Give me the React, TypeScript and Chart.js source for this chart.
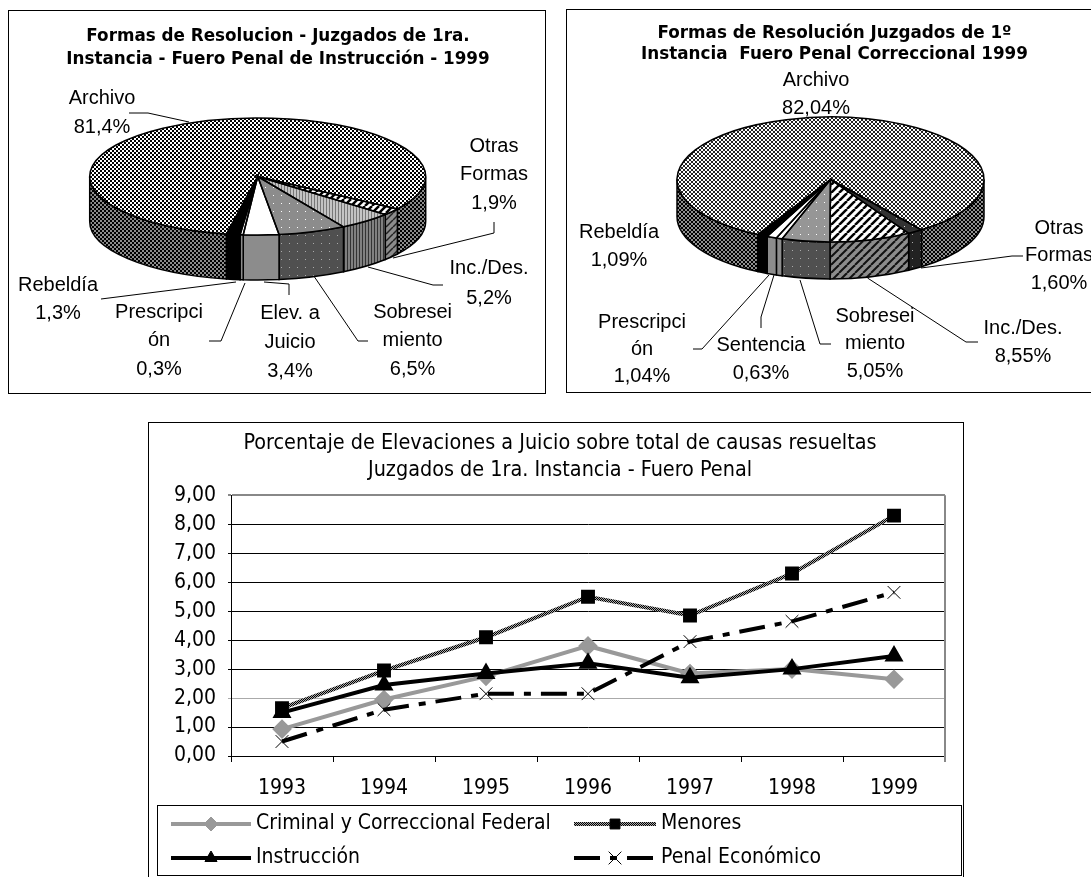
import React, { useEffect, useRef } from "react";
import { Chart, registerables } from "chart.js";
import { drawPoint } from "chart.js/helpers";

Chart.register(...registerables);

// ---------- data ----------
const instruccionCategories = [["Archivo"], ["Otras", "Formas"], ["Inc./Des."], ["Sobresei", "miento"], ["Elev. a", "Juicio"], ["Prescripci", "ón"], ["Rebeldía"]];
const instruccionValues = [81.4, 1.9, 5.2, 6.5, 3.4, 0.3, 1.3];
const correccionalCategories = [["Archivo"], ["Otras", "Formas"], ["Inc./Des."], ["Sobresei", "miento"], ["Sentencia"], ["Prescripci", "ón"], ["Rebeldía"]];
const correccionalValues = [82.04, 1.6, 8.55, 5.05, 0.63, 1.04, 1.09];

const years = ["1993", "1994", "1995", "1996", "1997", "1998", "1999"];
const criminalFederal = [0.93, 1.95, 2.75, 3.8, 2.85, 3.0, 2.65];
const menores = [1.65, 2.95, 4.1, 5.5, 4.85, 6.3, 8.3];
const instruccion = [1.5, 2.45, 2.85, 3.2, 2.7, 3.0, 3.45];
const penalEconomico = [0.5, 1.6, 2.15, 2.15, 3.95, 4.65, 5.65];

const titleA = ["Formas de Resolucion - Juzgados de 1ra.", "Instancia - Fuero Penal de Instrucción - 1999"];
const titleB = ["Formas de Resolución Juzgados de 1º", "Instancia  Fuero Penal Correccional 1999"];
const titleC = ["Porcentaje de Elevaciones a Juicio sobre total de causas resueltas", "Juzgados de 1ra. Instancia - Fuero Penal"];

// ---------- layout (page pixels) ----------
const PIE_FONT = '20px "Liberation Sans"';
const TITLE_FONT = "DejaVu Sans";
const LINE_FONT = "DejaVu Sans Condensed";

const layoutA = {
  canvas: { left: 8, top: 10, width: 540, height: 383 },
  ellipse: { cx: 257.7, cy: 176.5, rx: 168, ry: 58.5, depth: 45 },
  rotation: 190.7,
  decimals: 1,
  labels: [
    { x: 102, y: 98, lh: 29, leader: [[129, 113], [148, 113], [189, 122]] },
    { x: 494, y: 146, lh: 28.5, leader: [[494, 222], [494, 233], [393, 258]] },
    { x: 489, y: 268, lh: 30, leader: [[443, 285], [433, 285], [368, 267]] },
    { x: 412.6, y: 312, lh: 28.5, leader: [[368, 341], [358, 341], [314.5, 277]] },
    { x: 290, y: 313, lh: 29, leader: [[289, 295], [289, 284], [264, 282]] },
    { x: 159, y: 312, lh: 28.5, leader: [[209, 341], [221, 341], [245, 283]] },
    { x: 58, y: 285, lh: 28, leader: [[101, 299], [236, 282]] },
  ],
};

const layoutB = {
  canvas: { left: 567, top: 9, width: 535, height: 383 },
  ellipse: { cx: 830.5, cy: 179.5, rx: 153.5, ry: 62.5, depth: 37 },
  rotation: 208.3,
  decimals: 2,
  labels: [
    { x: 816, y: 80, lh: 28, leader: [] },
    { x: 1059, y: 228, lh: 27.5, leader: [[1023, 256], [1012, 256], [921, 268]] },
    { x: 1023, y: 328, lh: 28, leader: [[978, 342], [966, 342], [867.5, 278]] },
    { x: 875, y: 316, lh: 27.5, leader: [[831, 344], [820, 344], [800, 280]] },
    { x: 761, y: 345, lh: 28, leader: [[761, 328], [761, 317], [774, 275]] },
    { x: 642, y: 322, lh: 27, leader: [[693, 349], [702, 349], [769, 275]] },
    { x: 619, y: 232, lh: 28, leader: [] },
  ],
};

// ---------- patterns ----------
function tile(w: number, h: number, paint: (c: CanvasRenderingContext2D) => void) {
  const off = document.createElement("canvas");
  off.width = w;
  off.height = h;
  const c = off.getContext("2d")!;
  paint(c);
  return document.createElement("canvas").getContext("2d")!.createPattern(off, "repeat")!;
}
const checker = (fg: string, bg: string, cell = 2) =>
  tile(cell * 2, cell * 2, (c) => {
    c.fillStyle = bg;
    c.fillRect(0, 0, cell * 2, cell * 2);
    c.fillStyle = fg;
    c.fillRect(0, 0, cell, cell);
    c.fillRect(cell, cell, cell, cell);
  });
const vstripes = (a: string, b: string) =>
  tile(3, 3, (c) => {
    c.fillStyle = b;
    c.fillRect(0, 0, 3, 3);
    c.fillStyle = a;
    c.fillRect(0, 0, 1, 3);
  });
const dots = (bg: string, dot: string, n = 8) =>
  tile(n, n, (c) => {
    c.fillStyle = bg;
    c.fillRect(0, 0, n, n);
    c.fillStyle = dot;
    c.fillRect(1, 1, 1, 1);
  });
const diag = (bg: string, fg: string, n = 8, w = 2.5) =>
  tile(n, n, (c) => {
    c.fillStyle = bg;
    c.fillRect(0, 0, n, n);
    c.strokeStyle = fg;
    c.lineWidth = w;
    for (const k of [-n, 0, n]) {
      c.beginPath();
      c.moveTo(k, n);
      c.lineTo(k + n, 0);
      c.stroke();
    }
  });

function fillsA() {
  return {
    top: [checker("#000", "#fff"), diag("#fff", "#000", 7, 2.5), vstripes("#777", "#c4c4c4"), dots("#8c8c8c", "#fff"), "#fff", "#fff", "#000"],
    rim: [checker("#000", "#8c8c8c"), diag("#8c8c8c", "#222", 7, 1.5), vstripes("#333", "#808080"), dots("#505050", "#aaa"), "#8c8c8c", "#8c8c8c", "#000"],
  };
}
function fillsB() {
  return {
    top: [checker("#222", "#fff"), dots("#333", "#ddd"), diag("#fff", "#000", 8, 2.5), dots("#969696", "#fff"), "#fff", "#fff", "#000"],
    rim: [checker("#000", "#909090"), dots("#222", "#aaa"), diag("#8c8c8c", "#111", 8, 2), dots("#505050", "#aaa"), "#8c8c8c", "#8c8c8c", "#000"],
  };
}

// ---------- pie plugin: tilts the library's arcs, adds rim, outlines and labels ----------
const tiltedPie = {
  id: "tiltedPie",
  beforeDatasetsDraw(chart: any, _a: any, o: any) {
    const { ctx } = chart;
    const arcs = chart.getDatasetMeta(0).data;
    const R = arcs[0].outerRadius;
    const elx = arcs[0].x;
    const ely = arcs[0].y;
    const e = o.ellipse;
    const cx = e.cx - o.canvas.left;
    const cy = e.cy - o.canvas.top;
    const sx = e.rx / R;
    const sy = e.ry / R;
    // keep the slice patterns crisp and aligned to the device pixels under the tilt
    o.fills.top.forEach((p: any) => {
      if (p instanceof CanvasPattern) p.setTransform(new DOMMatrix([1 / sx, 0, 0, 1 / sy, elx - cx / sx, ely - cy / sy]));
    });
    // rim
    arcs.forEach((arc: any, i: number) => {
      let a0 = arc.startAngle;
      let a1 = arc.endAngle;
      const T = Math.PI * 2;
      while (a0 < 0) { a0 += T; a1 += T; }
      while (a0 >= T) { a0 -= T; a1 -= T; }
      for (const [lo, hi] of [[0, Math.PI], [T, T + Math.PI]]) {
        const s = Math.max(a0, lo);
        const t = Math.min(a1, hi);
        if (t <= s) continue;
        ctx.beginPath();
        ctx.ellipse(cx, cy, e.rx, e.ry, 0, s, t);
        ctx.ellipse(cx, cy + e.depth, e.rx, e.ry, 0, t, s, true);
        ctx.closePath();
        ctx.fillStyle = o.fills.rim[i];
        ctx.fill();
        ctx.strokeStyle = "#000";
        ctx.lineWidth = 1.5;
        ctx.stroke();
      }
    });
    ctx.save();
    ctx.translate(cx, cy);
    ctx.scale(sx, sy);
    ctx.translate(-elx, -ely);
  },
  afterDatasetsDraw(chart: any, _a: any, o: any) {
    const { ctx } = chart;
    ctx.restore();
    const e = o.ellipse;
    const cx = e.cx - o.canvas.left;
    const cy = e.cy - o.canvas.top;
    const arcs = chart.getDatasetMeta(0).data;
    arcs.forEach((arc: any) => {
      ctx.beginPath();
      ctx.moveTo(cx, cy);
      ctx.ellipse(cx, cy, e.rx, e.ry, 0, arc.startAngle, arc.endAngle);
      ctx.closePath();
      ctx.strokeStyle = "#000";
      ctx.lineWidth = 1.5;
      ctx.stroke();
    });
    // leaders and labels
    const values = chart.data.datasets[0].data;
    o.labels.forEach((l: any, i: number) => {
      if (l.leader.length) {
        ctx.beginPath();
        l.leader.forEach(([x, y]: number[], k: number) => {
          const px = x - o.canvas.left;
          const py = y - o.canvas.top;
          if (k) ctx.lineTo(px, py);
          else ctx.moveTo(px, py);
        });
        ctx.strokeStyle = "#000";
        ctx.lineWidth = 1;
        ctx.stroke();
      }
      const lines = [...chart.data.labels[i], values[i].toFixed(o.decimals).replace(".", ",") + "%"];
      ctx.font = PIE_FONT;
      ctx.fillStyle = "#000";
      ctx.textAlign = "center";
      ctx.textBaseline = "middle";
      lines.forEach((t: string, k: number) => {
        ctx.fillText(t, l.x - o.canvas.left, l.y - o.canvas.top + k * l.lh);
      });
    });
  },
};

function Pie({ layout, labels, values, title, fills, titleOpts }: any) {
  const ref = useRef<HTMLCanvasElement>(null);
  useEffect(() => {
    const f = fills();
    const chart = new Chart(ref.current!, {
      type: "pie",
      data: { labels, datasets: [{ data: values, backgroundColor: f.top, borderWidth: 0 }] },
      options: {
        responsive: false,
        animation: false,
        events: [],
        rotation: layout.rotation,
        plugins: {
          legend: { display: false },
          tooltip: { enabled: false },
          title: { display: true, text: title, color: "#000", font: { family: TITLE_FONT, weight: "bold", size: titleOpts.size, lineHeight: titleOpts.lh }, padding: { top: titleOpts.top, bottom: 4 } },
          tiltedPie: { ...layout, fills: f },
        },
      } as any,
      plugins: [tiltedPie],
    });
    return () => chart.destroy();
  }, []);
  const c = layout.canvas;
  return <canvas ref={ref} width={c.width} height={c.height} style={{ position: "absolute", left: c.left, top: c.top, width: c.width, height: c.height }} />;
}

// ---------- line chart legend ----------
const lineLegend = {
  id: "lineLegend",
  afterDraw(chart: any, _a: any, o: any) {
    const { ctx, chartArea } = chart;
    ctx.save();
    // right border of the plot
    ctx.strokeStyle = "#888";
    ctx.lineWidth = 2;
    ctx.beginPath();
    ctx.moveTo(chartArea.right, chartArea.top);
    ctx.lineTo(chartArea.right, chartArea.bottom + 6);
    ctx.stroke();
    // box
    ctx.strokeStyle = "#000";
    ctx.lineWidth = 1;
    ctx.strokeRect(o.box.x + 0.5, o.box.y + 0.5, o.box.w, o.box.h);
    chart.data.datasets.forEach((d: any, i: number) => {
      const pos = o.items[i];
      ctx.save();
      ctx.beginPath();
      ctx.strokeStyle = d.borderColor;
      ctx.lineWidth = d.borderWidth;
      ctx.setLineDash(d.borderDash || []);
      ctx.moveTo(pos.x0, pos.y);
      ctx.lineTo(pos.x1, pos.y);
      ctx.stroke();
      ctx.restore();
      ctx.save();
      ctx.fillStyle = d.pointBackgroundColor;
      ctx.strokeStyle = d.pointBorderColor;
      ctx.lineWidth = 1;
      drawPoint(ctx, { pointStyle: d.pointStyle, radius: d.pointRadius, rotation: 0, borderWidth: 1 }, (pos.x0 + pos.x1) / 2, pos.y);
      ctx.restore();
      ctx.fillStyle = "#000";
      ctx.font = `21px "${LINE_FONT}"`;
      ctx.textAlign = "left";
      ctx.textBaseline = "middle";
      ctx.fillText(d.label, pos.x1 + 5, pos.y);
    });
    ctx.restore();
  },
};

function LineChart() {
  const ref = useRef<HTMLCanvasElement>(null);
  useEffect(() => {
    const hatch = checker("#000", "#aaa", 1);
    const chart = new Chart(ref.current!, {
      type: "line",
      data: {
        labels: years,
        datasets: [
          { label: "Criminal y Correccional Federal", data: criminalFederal, order: 4, borderColor: "#999", borderWidth: 4, pointStyle: "rectRot", pointRadius: 7, pointBackgroundColor: "#999", pointBorderColor: "#999", tension: 0 },
          { label: "Menores", data: menores, order: 3, borderColor: hatch, borderWidth: 4, pointStyle: "rect", pointRadius: 7, pointBackgroundColor: "#000", pointBorderColor: "#000", tension: 0 },
          { label: "Instrucción", data: instruccion, order: 2, borderColor: "#000", borderWidth: 4, pointStyle: "triangle", pointRadius: 7, pointBackgroundColor: "#000", pointBorderColor: "#000", tension: 0 },
          { label: "Penal Económico", data: penalEconomico, order: 1, borderColor: "#000", borderWidth: 4, borderDash: [26, 10, 7, 10], pointStyle: "crossRot", pointRadius: 9, pointBackgroundColor: "#000", pointBorderColor: "#000", pointBorderWidth: 1, tension: 0 },
        ],
      },
      options: {
        responsive: false,
        animation: false,
        events: [],
        layout: { padding: { left: 27, right: 18, top: 0, bottom: 0 } },
        scales: {
          x: {
            offset: true,
            afterFit(s: any) { s.height = 121; },
            grid: { drawOnChartArea: false, offset: true, tickLength: 6, color: "#000" },
            border: { color: "#000" },
            ticks: { color: "#000", font: { family: LINE_FONT, size: 21 }, padding: 14, maxRotation: 0 },
          },
          y: {
            min: 0,
            max: 9,
            afterFit(s: any) { s.width = 56; },
            grid: { color: (c: any) => (c.tick.value === 9 ? "#888" : c.tick.value === 2 ? "#aaa" : "#000"), tickLength: 3, lineWidth: (c: any) => (c.tick.value === 9 ? 2 : 1) },
            border: { color: "#000" },
            ticks: { stepSize: 1, color: "#000", font: { family: LINE_FONT, size: 21 }, padding: 12, callback: (v: any) => Number(v).toFixed(2).replace(".", ",") },
          },
        },
        plugins: {
          legend: { display: false },
          tooltip: { enabled: false },
          title: { display: true, text: titleC, color: "#000", font: { family: LINE_FONT, size: 21.4, weight: "normal", lineHeight: 1.27 }, padding: { top: 8, bottom: 11 } },
          lineLegend: {
            box: { x: 9, y: 383, w: 804, h: 70 },
            items: [
              { x0: 23, x1: 103, y: 402 },
              { x0: 426, x1: 508, y: 402 },
              { x0: 23, x1: 103, y: 436 },
              { x0: 426, x1: 508, y: 436 },
            ],
          },
        },
      } as any,
      plugins: [lineLegend],
    });
    return () => chart.destroy();
  }, []);
  return <canvas ref={ref} width={815} height={455} style={{ position: "absolute", left: 148, top: 422, width: 815, height: 455 }} />;
}

const frame = (left: number, top: number, width: number, height: number) => ({
  position: "absolute" as const,
  left,
  top,
  width,
  height,
  border: "1px solid #000",
  boxSizing: "border-box" as const,
});

export default function App() {
  return (
    <div style={{ position: "absolute", left: 0, top: 0, width: 1091, height: 877, overflow: "hidden", background: "#fff" }}>
      <div style={frame(8, 10, 538, 384)} />
      <div style={frame(566, 9, 560, 384)} />
      <div style={frame(148, 422, 816, 460)} />
      <Pie layout={layoutA} labels={instruccionCategories} values={instruccionValues} title={titleA} fills={fillsA} titleOpts={{ size: 16.8, lh: 1.37, top: 15 }} />
      <Pie layout={layoutB} labels={correccionalCategories} values={correccionalValues} title={titleB} fills={fillsB} titleOpts={{ size: 16.8, lh: 1.25, top: 14 }} />
      <LineChart />
    </div>
  );
}
